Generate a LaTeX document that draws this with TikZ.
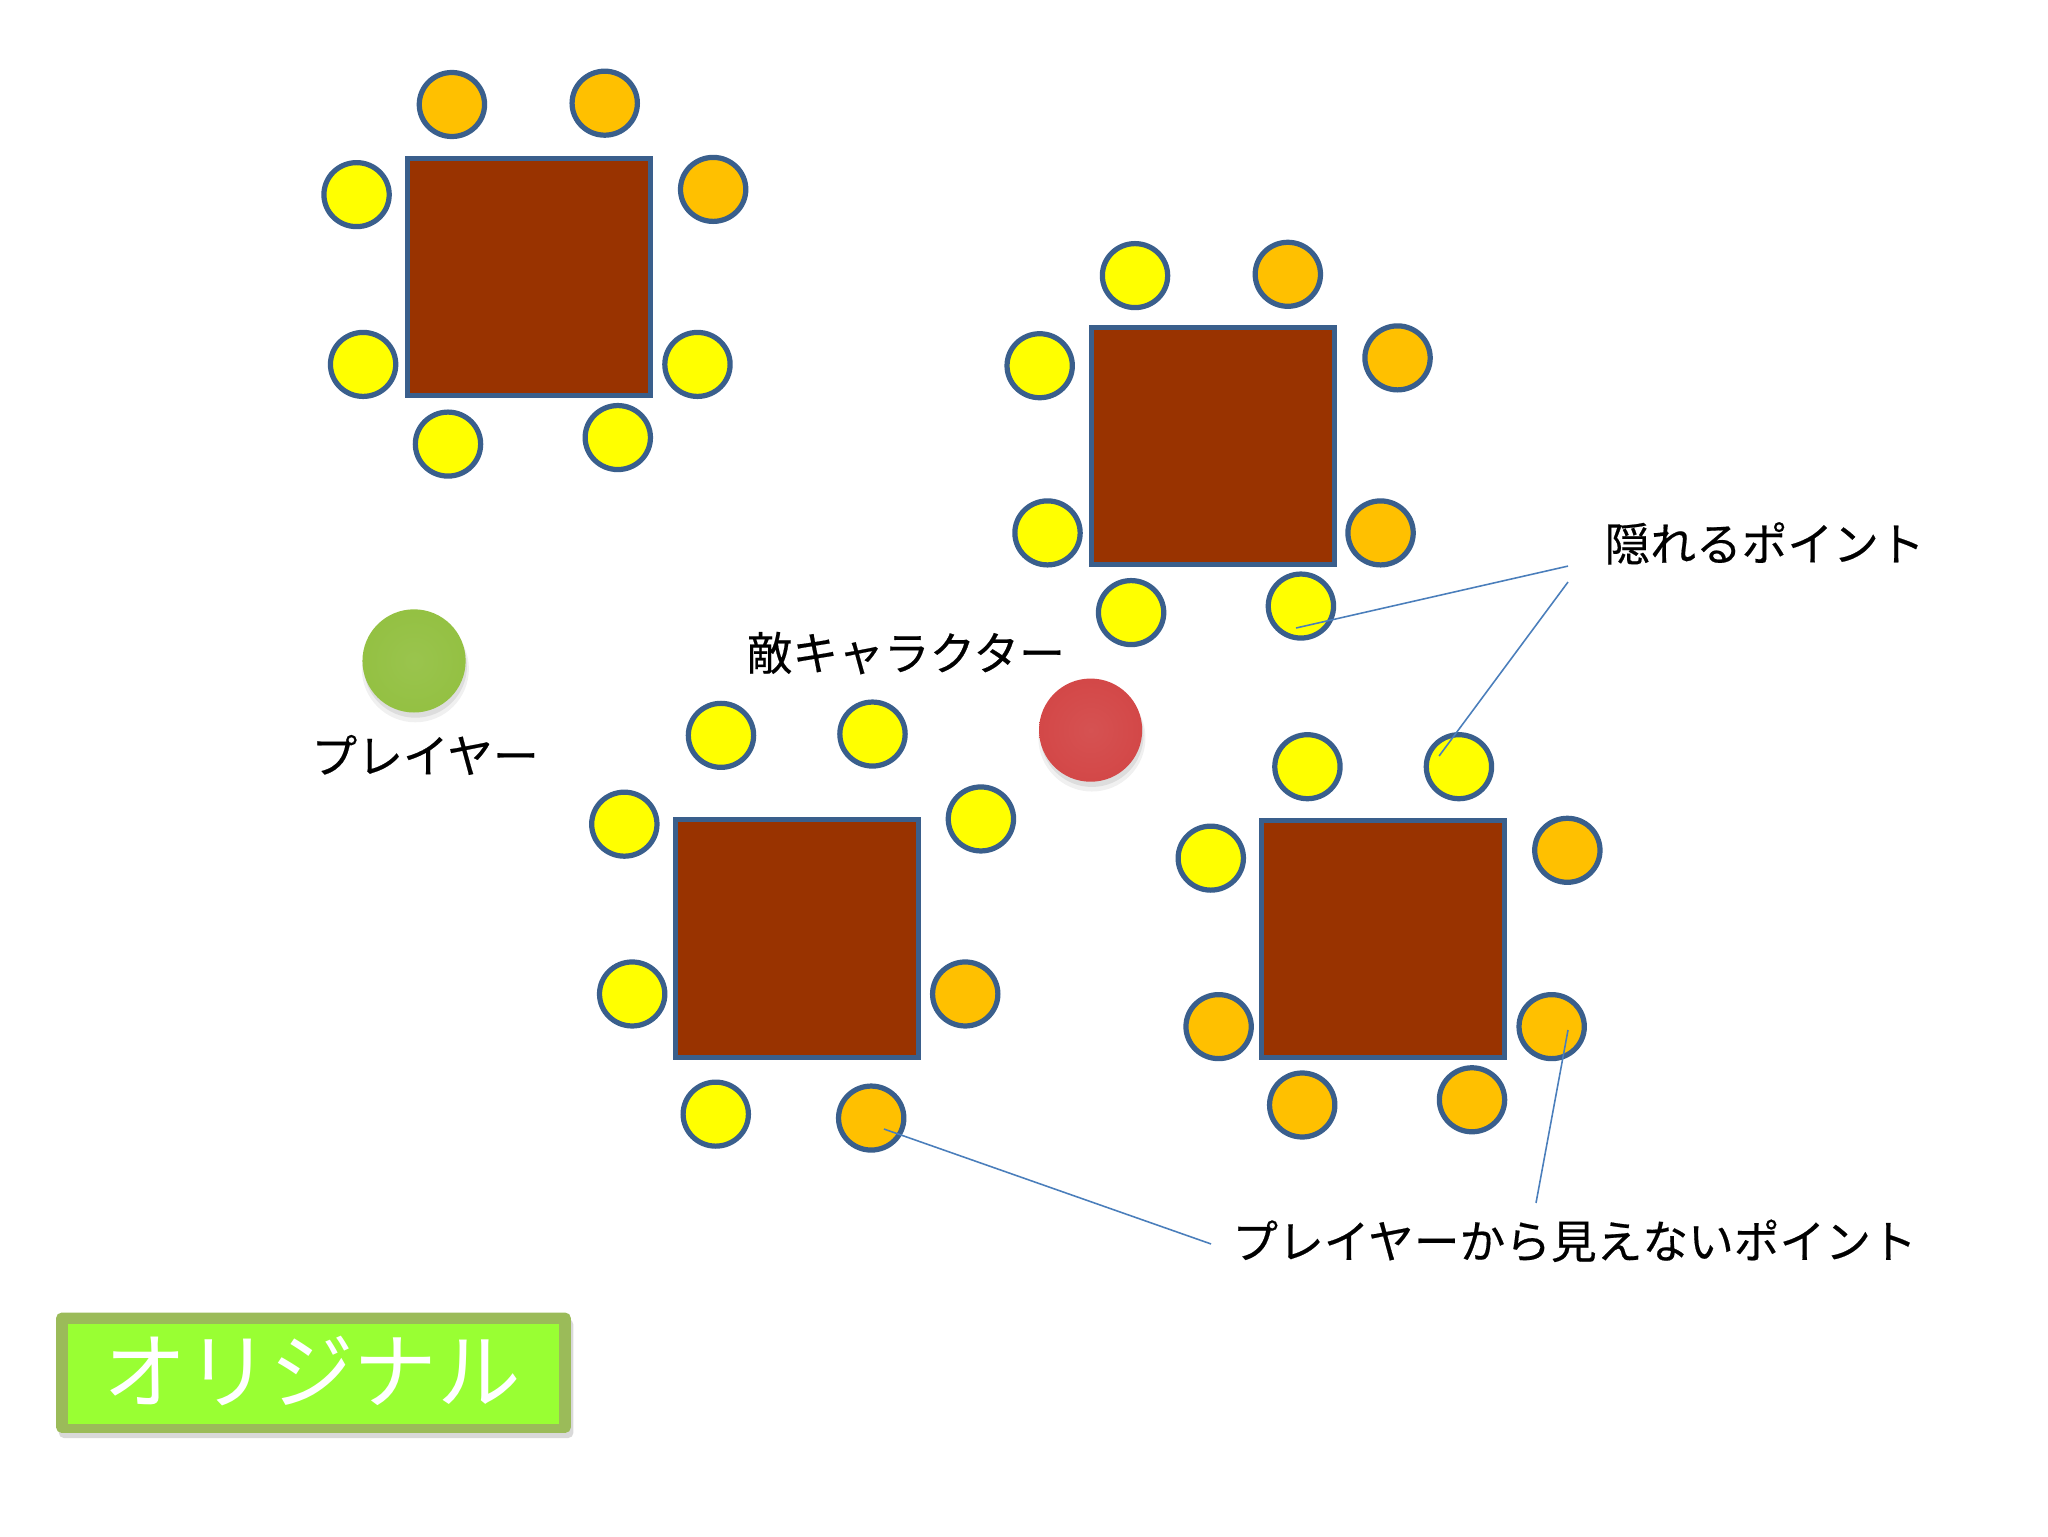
\documentclass[tikz,border=0pt]{standalone}
\usepackage{fontspec}
\setmainfont{Noto Sans CJK JP}[FakeBold=0.4]
\newfontfamily\tagfont{Noto Sans CJK JP}
\usetikzlibrary{shapes.geometric}
\definecolor{seatY}{HTML}{FFFF00}
\definecolor{seatO}{HTML}{FFC000}
\definecolor{edgeblue}{HTML}{3A5F8C}
\definecolor{tablebrown}{HTML}{993300}
\definecolor{linkblue}{HTML}{4A7EBB}
\definecolor{olive}{HTML}{9BBB59}
\definecolor{lime}{HTML}{99FF33}
\definecolor{greenball}{HTML}{91BF3E}
\definecolor{greenedge}{HTML}{6F9A2C}
\definecolor{redball}{HTML}{D24343}
\definecolor{rededge}{HTML}{A83030}
\pgfdeclareradialshading{ballgreen}{\pgfpoint{0bp}{0bp}}{color(0bp)=(greenball!92!white); color(36bp)=(greenball); color(45bp)=(greenball!85!greenedge); color(49bp)=(greenedge); color(50bp)=(greenedge)}
\pgfdeclareradialshading{ballred}{\pgfpoint{0bp}{0bp}}{color(0bp)=(redball!92!white); color(36bp)=(redball); color(45bp)=(redball!85!rededge); color(49bp)=(rededge); color(50bp)=(rededge)}
\tikzset{
  seat/.style={ellipse, draw=edgeblue, line width=4pt, minimum width=50pt, minimum height=49pt, inner sep=0pt},
  ys/.style={seat, fill=seatY},
  os/.style={seat, fill=seatO},
  tablebox/.style={rectangle, draw=edgeblue, line width=3.8pt, fill=tablebrown, minimum width=186pt, minimum height=182pt, inner sep=0pt},
  lbl/.style={font=\fontsize{35}{40}\selectfont, inner sep=0pt, text=black},
  link/.style={draw=linkblue, line width=1.2pt},
}
\begin{document}
\begin{tikzpicture}[x=1pt,y=-1pt]
\useasboundingbox (0,0) rectangle (1568,1176);
\fill[white] (0,0) rectangle (1568,1176);

% Table 1
\node[tablebox] (tab1) at (405,212) {};
\node[os] (s1a) at (346,80) {};
\node[os] (s1b) at (463,79) {};
\node[ys] (s1c) at (273,149) {};
\node[os] (s1d) at (546,145) {};
\node[ys] (s1e) at (278,279) {};
\node[ys] (s1f) at (534,279) {};
\node[ys] (s1g) at (343,340) {};
\node[ys] (s1h) at (473,335) {};

% Table 2
\node[tablebox] (tab2) at (928.5,341.5) {};
\node[ys] (s2a) at (869,211) {};
\node[os] (s2b) at (986,210) {};
\node[ys] (s2c) at (796,280) {};
\node[os] (s2d) at (1070,274) {};
\node[ys] (s2e) at (802,408) {};
\node[os] (s2f) at (1057,408) {};
\node[ys] (s2g) at (866,469) {};
\node[ys] (s2h) at (996,464) {};

% Table 3
\node[tablebox] (tab3) at (610,718.5) {};
\node[ys] (s3a) at (552,563) {};
\node[ys] (s3b) at (668,562) {};
\node[ys] (s3c) at (478,631) {};
\node[ys] (s3d) at (751,627) {};
\node[ys] (s3e) at (484,761) {};
\node[os] (s3f) at (739,761) {};
\node[ys] (s3g) at (548,853) {};
\node[os] (s3h) at (667,856) {};

% Table 4
\node[tablebox] (tab4) at (1059,719) {};
\node[ys] (s4a) at (1001,587) {};
\node[ys] (s4b) at (1117,587) {};
\node[ys] (s4c) at (927,657) {};
\node[os] (s4d) at (1200,651) {};
\node[os] (s4e) at (933,786) {};
\node[os] (s4f) at (1188,786) {};
\node[os] (s4g) at (997,846) {};
\node[os] (s4h) at (1127,842) {};

% Player ball
\fill[black, opacity=0.06] (318,512) circle (41);
\fill[black, opacity=0.08] (318,510) circle (39.5);
\shade[shading=ballgreen] (317,506) circle (39.5);
\node[circle, minimum size=79pt, inner sep=0pt] (player) at (317,506) {};
% Enemy ball
\fill[black, opacity=0.06] (836,565) circle (41);
\fill[black, opacity=0.08] (836,563) circle (39.5);
\shade[shading=ballred] (835,559) circle (39.5);
\node[circle, minimum size=79pt, inner sep=0pt] (enemy) at (835,559) {};

% Labels
\node[lbl] (lplayer) at (325.5,578) {プレイヤー};
\node[lbl] (lenemy) at (693.5,500) {敵キャラクター};
\node[lbl] (lhide) at (1351,416) {隠れるポイント};
\node[lbl] (lunseen) at (1205.5,950) {プレイヤーから見えないポイント};

% Connectors
\coordinate (h1) at (1200.5,433.4);
\coordinate (h2) at (1200.5,445.6);
\coordinate (u1) at (927.2,952.4);
\coordinate (u2) at (1176,921);
\coordinate (e1) at (992.3,480.8);
\coordinate (e2) at (1101.8,578.8);
\coordinate (e3) at (676.8,864.4);
\coordinate (e4) at (1200.5,788.6);
\draw[link] (e1) -- (h1);
\draw[link] (e2) -- (h2);
\draw[link] (e3) -- (u1);
\draw[link] (e4) -- (u2);

% Original tag
\fill[black, opacity=0.15, rounded corners=4pt] (45,1010) rectangle (439,1101);
\fill[olive, rounded corners=4pt] (43,1005) rectangle (437,1097);
\fill[lime] (52,1014) rectangle (428,1090);
\node[font=\tagfont\fontsize{64}{70}\selectfont, text=white, inner sep=0pt] (tag) at (239,1050) {オリジナル};
\end{tikzpicture}
\end{document}
